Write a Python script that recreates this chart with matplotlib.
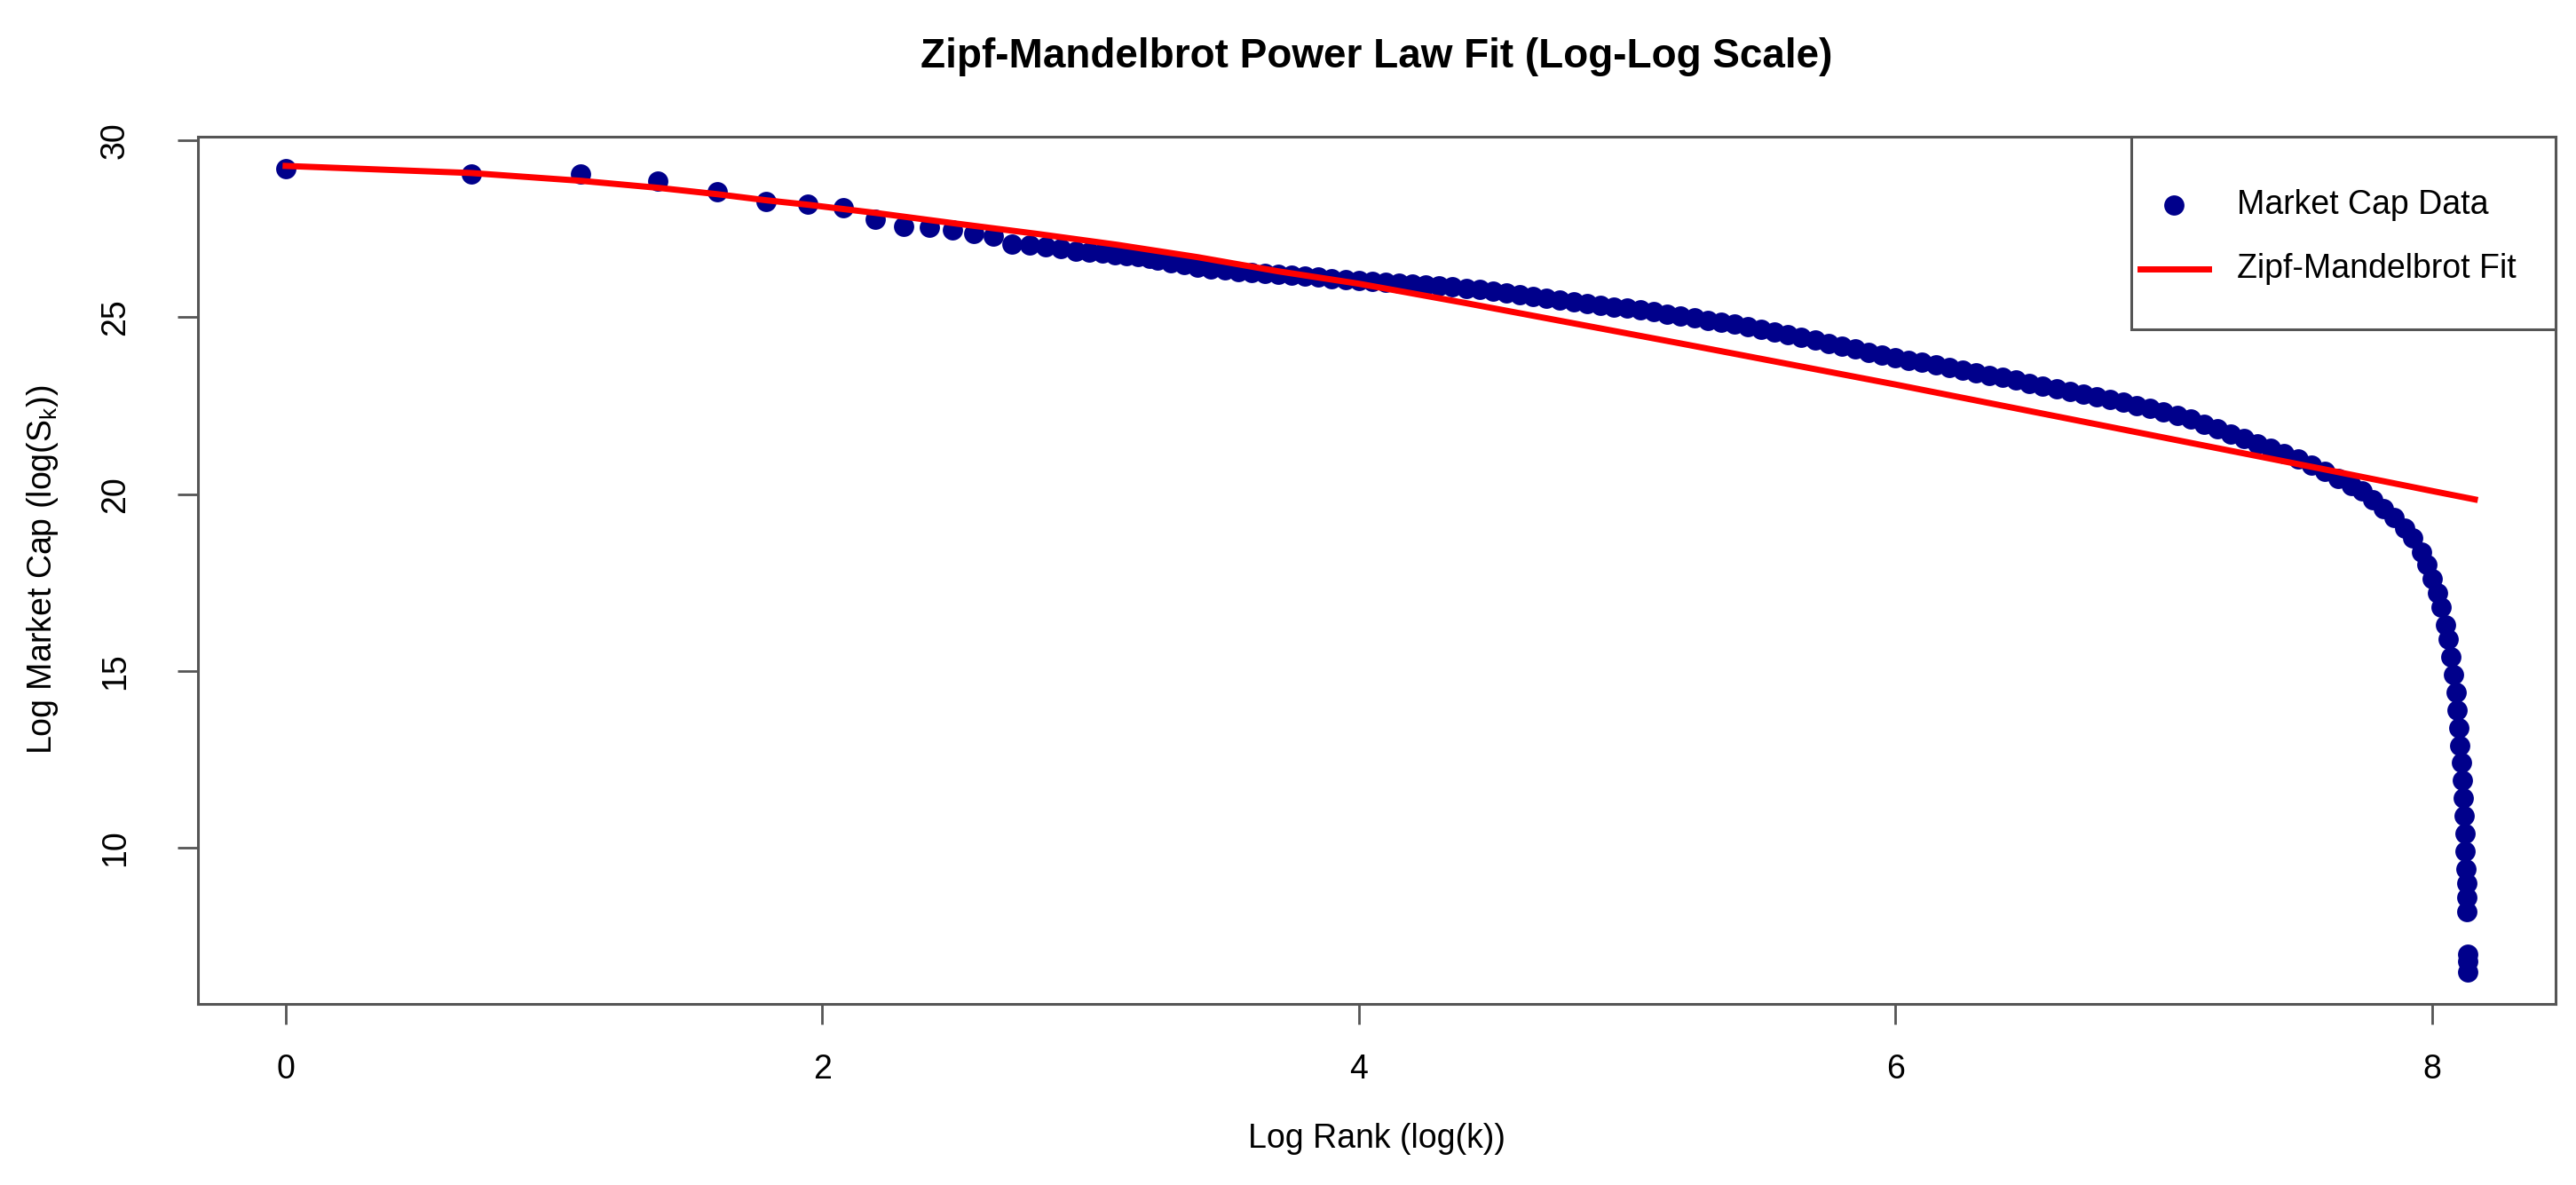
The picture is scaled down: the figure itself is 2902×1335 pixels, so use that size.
import numpy as np
import matplotlib
matplotlib.use("Agg")
import matplotlib.pyplot as plt
from matplotlib.lines import Line2D
from matplotlib.patches import Rectangle

# --- data ------------------------------------------------------------------
# first ranks are separate dots; after that the dots merge into a band
TOP_RANK = list(range(1, 26))
TOP_LOG_CAP = [29.21, 29.04, 29.06, 28.86, 28.54, 28.27, 28.20, 28.10, 27.78, 27.56,
               27.54, 27.48, 27.38, 27.30, 27.07, 27.05, 27.00, 26.95, 26.88, 26.84,
               26.81, 26.78, 26.75, 26.71, 26.67]

BAND_LOG_RANK = [3.25, 3.30, 3.35, 3.40, 3.45, 3.50, 3.55, 3.60, 3.65, 3.70,
                 3.75, 3.80, 3.85, 3.90, 3.95, 4.00, 4.05, 4.10, 4.15, 4.20,
                 4.25, 4.30, 4.35, 4.40, 4.45, 4.50, 4.55, 4.60, 4.65, 4.70,
                 4.75, 4.80, 4.85, 4.90, 4.95, 5.00, 5.05, 5.10, 5.15, 5.20,
                 5.25, 5.30, 5.35, 5.40, 5.45, 5.50, 5.55, 5.60, 5.65, 5.70,
                 5.75, 5.80, 5.85, 5.90, 5.95, 6.00, 6.05, 6.10, 6.15, 6.20,
                 6.25, 6.30, 6.35, 6.40, 6.45, 6.50, 6.55, 6.60, 6.65, 6.70,
                 6.75, 6.80, 6.85, 6.90, 6.95, 7.00, 7.05, 7.10, 7.15, 7.20,
                 7.25, 7.30, 7.35, 7.40, 7.45, 7.50, 7.55, 7.60, 7.65, 7.70]
BAND_LOG_CAP = [26.62, 26.55, 26.50, 26.42, 26.37, 26.33, 26.30, 26.27, 26.24, 26.22,
                26.19, 26.16, 26.13, 26.10, 26.07, 26.04, 26.01, 25.99, 25.97, 25.95,
                25.92, 25.89, 25.86, 25.82, 25.78, 25.74, 25.70, 25.65, 25.60, 25.55,
                25.50, 25.45, 25.40, 25.35, 25.30, 25.25, 25.20, 25.15, 25.09, 25.04,
                24.98, 24.92, 24.86, 24.80, 24.73, 24.66, 24.59, 24.51, 24.43, 24.35,
                24.27, 24.19, 24.10, 24.02, 23.94, 23.86, 23.79, 23.72, 23.65, 23.58,
                23.50, 23.43, 23.36, 23.30, 23.22, 23.14, 23.06, 22.98, 22.90, 22.83,
                22.76, 22.68, 22.60, 22.51, 22.42, 22.33, 22.23, 22.12, 21.98, 21.84,
                21.70, 21.57, 21.43, 21.29, 21.14, 20.99, 20.82, 20.64, 20.45, 20.25]

# the collapse of the smallest caps at the far right
TAIL_LOG_RANK = [7.74, 7.78, 7.82, 7.86, 7.90, 7.93, 7.96, 7.98, 8.00, 8.02,
                 8.035, 8.05, 8.06, 8.07, 8.08, 8.09, 8.095, 8.10, 8.105, 8.11,
                 8.115, 8.118, 8.12, 8.123, 8.125, 8.127, 8.129, 8.13, 8.131, 8.132,
                 8.133, 8.135]
TAIL_LOG_CAP = [20.09, 19.85, 19.60, 19.33, 19.05, 18.75, 18.35, 18.00, 17.60, 17.20,
                16.80, 16.30, 15.90, 15.40, 14.90, 14.40, 13.90, 13.40, 12.90, 12.40,
                11.90, 11.40, 10.90, 10.40, 9.90, 9.40, 9.00, 8.60, 8.20, 7.00,
                6.80, 6.50]

FIT_LOG_RANK = [0.00, 0.69, 1.10, 1.39, 1.61, 1.79, 1.95, 2.08, 2.20, 2.50,
                2.80, 3.10, 3.40, 3.70, 4.00, 4.40, 4.80, 5.20, 5.60, 6.00,
                6.40, 6.80, 7.20, 7.60, 8.00, 8.16]
FIT_LOG_CAP = [29.28, 29.08, 28.86, 28.66, 28.48, 28.31, 28.18, 28.06, 27.95, 27.65,
               27.36, 27.05, 26.70, 26.30, 25.95, 25.40, 24.83, 24.26, 23.68, 23.10,
               22.50, 21.90, 21.30, 20.70, 20.09, 19.85]

TITLE = "Zipf-Mandelbrot Power Law Fit (Log-Log Scale)"
XLABEL = "Log Rank (log(k))"
YLABEL = r"Log Market Cap (log(S$_{\mathrm{k}}$))"
LEGEND_LABELS = ["Market Cap Data", "Zipf-Mandelbrot Fit"]

DARKBLUE = "#00008B"
RED = "#FF0000"
FRAME = "#555555"

plt.rcParams.update({
    "font.family": ["Liberation Sans", "DejaVu Sans"],
    "mathtext.fontset": "custom",
    "mathtext.rm": "Liberation Sans",
    "mathtext.it": "Liberation Sans:italic",
    "font.size": 27,
})

x = np.concatenate([np.log(TOP_RANK), BAND_LOG_RANK, TAIL_LOG_RANK])
y = np.concatenate([TOP_LOG_CAP, BAND_LOG_CAP, TAIL_LOG_CAP])

fig = plt.figure(figsize=(29.02, 13.35), dpi=100)
ax = fig.add_axes([0.077, 0.153, 0.915, 0.732])

ax.scatter(x, y, s=270, c=DARKBLUE, linewidths=0, zorder=2)
ax.plot(FIT_LOG_RANK, FIT_LOG_CAP, color=RED, lw=5, zorder=3)

# R style limits: data range + 4% on each side
xr = x.max() - x.min(); yr = y.max() - y.min()
ax.set_xlim(x.min() - 0.04 * xr, x.max() + 0.04 * xr)
ax.set_ylim(y.min() - 0.04 * yr, y.max() + 0.04 * yr)
ax.set_xticks([0, 2, 4, 6, 8])
ax.set_yticks([10, 15, 20, 25, 30])

for sp in ax.spines.values():
    sp.set_color(FRAME); sp.set_linewidth(2.2)
ax.tick_params(length=16.5, width=2, color=FRAME, labelsize=27, labelcolor="black")
ax.tick_params(axis="x", pad=24)
ax.tick_params(axis="y", pad=38, labelrotation=90)
for lbl in ax.get_yticklabels():
    lbl.set_va("center")

ax.set_xlabel(XLABEL, fontsize=27)
ax.xaxis.set_label_coords(0.5, -0.156)
ax.xaxis.label.set_va("center")
ax.set_ylabel(YLABEL, fontsize=27)
ax.yaxis.set_label_coords(-0.066, 0.5)
ax.yaxis.label.set_va("center")

ax.text(0.5, 1.092, TITLE, transform=ax.transAxes, ha="center", va="center",
        fontsize=33, fontweight="bold")

# legend box drawn the way R's topright legend sits flush in the corner
ax.add_patch(Rectangle((0.82, 0.777), 0.18, 0.223, transform=ax.transAxes,
                       facecolor="white", edgecolor=FRAME, lw=2.2, zorder=5,
                       clip_on=False))
ax.add_line(Line2D([0.838], [0.921], transform=ax.transAxes, marker="o",
                   ms=16.4, color=DARKBLUE, mew=0, ls="none", zorder=6))
ax.add_line(Line2D([0.824, 0.853], [0.847, 0.847], transform=ax.transAxes,
                   color=RED, lw=5, zorder=6))
for yy, txt in zip([0.921, 0.847], LEGEND_LABELS):
    ax.text(0.865, yy, txt, transform=ax.transAxes, ha="left", va="center",
            fontsize=27, zorder=6)

fig.savefig("out.png", dpi=100, facecolor="white")
